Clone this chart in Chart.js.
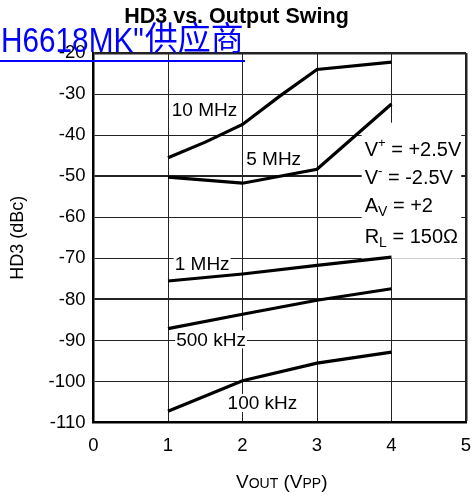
<!DOCTYPE html>
<html>
<head>
<meta charset="utf-8">
<script src="https://cdn.jsdelivr.net/npm/chart.js@4/dist/chart.umd.min.js"></script>
<style>
  html, body { margin: 0; padding: 0; background: #fff; }
  #hd3Chart { display: block; }
</style>
</head>
<body>
<canvas id="hd3Chart" width="472" height="499"></canvas>
<script>
// output swing (Vpp) where each curve was read
const swing = [1, 2, 3, 4];
// the 10 MHz curve bends, so it gets a few more readings
const swing10 = [1, 1.5, 2, 2.5, 3, 4];
const hd3_10MHz = [-45.5, -41.7, -37.4, -30.5, -24.0, -22.2];
const hd3_5MHz = [-50.2, -51.7, -48.3, -32.4];
const hd3_1MHz = [-75.5, -73.8, -71.7, -69.7];
const hd3_500kHz = [-87.1, -83.6, -80.2, -77.4];
const hd3_100kHz = [-107.2, -99.8, -95.5, -92.8];

const seriesNames = ["10 MHz", "5 MHz", "1 MHz", "500 kHz", "100 kHz"];
// curve names: left edge (Vpp) and middle (dBc)
const nameX = [1.05, 2.05, 1.09, 1.11, 1.8];
const nameY = [-33.7, -45.8, -71.3, -89.7, -105.2];

const xTicks = [0, 1, 2, 3, 4, 5];
const yTicks = [-110, -100, -90, -80, -70, -60, -50, -40, -30, -20];

// test conditions, drawn as text parts: [text, size, raise]
const conditions = [
  [["V", 20], ["+", 13, 9], [" = +2.5V", 20]],
  [["V", 20], ["-", 13, 9], [" = -2.5V", 20]],
  [["A", 20], ["V", 14, -4], [" = +2", 20]],
  [["R", 20], ["L", 14, -4], [" = 150\u03A9", 20]],
];
const conditionX = 3.64;
const conditionY = [-45.0, -52.0, -58.7, -66.2];

const FONT = '"Liberation Sans", Arial, Helvetica, sans-serif';

function drawParts(ctx, parts, x, y) {
  let cx = x;
  for (const p of parts) {
    ctx.font = `${p[1]}px ${FONT}`;
    ctx.fillText(p[0], cx, y - (p[2] || 0));
    cx += ctx.measureText(p[0]).width;
  }
  return cx - x;
}

function partsWidth(ctx, parts) {
  let w = 0;
  for (const p of parts) {
    ctx.font = `${p[1]}px ${FONT}`;
    w += ctx.measureText(p[0]).width;
  }
  return w;
}

const annotationsPlugin = {
  id: "annotations",
  beforeDatasetsDraw(chart) {
    const ctx = chart.ctx;
    const xs = chart.scales.x;
    const ys = chart.scales.y;
    ctx.save();
    ctx.textBaseline = "alphabetic";
    ctx.textAlign = "left";

    // white block behind the test conditions
    const cx = xs.getPixelForValue(conditionX);
    const widths = conditions.map((c) => partsWidth(ctx, c));
    const top = ys.getPixelForValue(conditionY[0]) - 33;
    const bottom = ys.getPixelForValue(conditionY[conditionY.length - 1]) + 16;
    ctx.fillStyle = "#fff";
    ctx.fillRect(cx - 3, top, Math.max(...widths) + 3, bottom - top);
    ctx.fillStyle = "#000";
    for (let i = 0; i < conditions.length; i++) {
      drawParts(ctx, conditions[i], cx, ys.getPixelForValue(conditionY[i]));
    }

    // curve names with a white background
    ctx.font = `19px ${FONT}`;
    ctx.textBaseline = "middle";
    for (let i = 0; i < seriesNames.length; i++) {
      const x = xs.getPixelForValue(nameX[i]);
      const y = ys.getPixelForValue(nameY[i]);
      const w = ctx.measureText(seriesNames[i]).width;
      ctx.fillStyle = "#fff";
      ctx.fillRect(x - 1, y - 9, w + 2, 18);
      ctx.fillStyle = "#000";
      ctx.fillText(seriesNames[i], x, y + 1);
    }
    ctx.restore();
  },
  afterDraw(chart) {
    const ctx = chart.ctx;
    const area = chart.chartArea;
    ctx.save();
    ctx.fillStyle = "#000";

    // title
    ctx.font = `bold 21.5px ${FONT}`;
    ctx.textAlign = "center";
    ctx.textBaseline = "alphabetic";
    ctx.fillText("HD3 vs. Output Swing", 236.5, 23);

    // y axis title
    ctx.save();
    ctx.translate(18, (area.top + area.bottom) / 2);
    ctx.rotate(-Math.PI / 2);
    ctx.font = `18px ${FONT}`;
    ctx.textBaseline = "middle";
    ctx.fillText("HD3 (dBc)", 0, 0);
    ctx.restore();

    // x axis title with small-caps subscripts
    ctx.textAlign = "left";
    const xTitle = [["V", 19], ["OUT", 14], [" (V", 19], ["PP", 14], [")", 19]];
    const w = partsWidth(ctx, xTitle);
    drawParts(ctx, xTitle, (area.left + area.right) / 2 + 2 - w / 2, 488);

    // blue link text over the top of the chart
    ctx.fillStyle = "#0000ff";
    ctx.save();
    ctx.translate(1, 52);
    ctx.scale(0.85, 1);
    ctx.font = `35px ${FONT}`;
    const latin = 'H6618MK"';
    ctx.fillText(latin, 0, 0);
    const lw = ctx.measureText(latin).width * 0.85;
    ctx.restore();
    ctx.font = '33px "Noto Sans CJK SC", sans-serif';
    ctx.fillText("供应商", 1 + lw + 1, 50);
    ctx.fillRect(0, 60, 245, 2);
    ctx.restore();
  },
};

window.addEventListener("load", () => {
  const series = [hd3_10MHz, hd3_5MHz, hd3_1MHz, hd3_500kHz, hd3_100kHz];
  const datasets = series.map((values, i) => {
    const xs = i == 0 ? swing10 : swing;
    return {
      label: seriesNames[i],
      data: xs.map((x, j) => ({ x: x, y: values[j] })),
      borderColor: "#000",
      borderWidth: 3.2,
      pointRadius: 0,
      fill: false,
      tension: 0,
    };
  });

  const ctx = document.getElementById("hd3Chart").getContext("2d");
  new Chart(ctx, {
    type: "line",
    data: { datasets: datasets },
    plugins: [annotationsPlugin],
    options: {
      responsive: false,
      animation: false,
      devicePixelRatio: 1,
      layout: { padding: { top: 53, right: 6, left: 0, bottom: 0 } },
      plugins: {
        legend: { display: false },
        tooltip: { enabled: false },
      },
      scales: {
        x: {
          type: "linear",
          min: xTicks[0],
          max: xTicks[xTicks.length - 1],
          afterBuildTicks: (scale) => {
            scale.ticks = xTicks.map((v) => ({ value: v }));
          },
          afterFit: (scale) => {
            scale.height = 76.3;
            // let the last label hang past the plot edge
            scale.paddingLeft = 0;
            scale.paddingRight = 0;
          },
          ticks: {
            color: "#000",
            padding: 12,
            font: { family: FONT, size: 18.5 },
          },
          grid: {
            color: "#222",
            drawTicks: false,
            lineWidth: (c) => (c.tick && c.tick.value == 5 ? 2.5 : 1),
          },
          border: { color: "#000", width: 2.5 },
        },
        y: {
          min: yTicks[0],
          max: yTicks[yTicks.length - 1],
          afterBuildTicks: (scale) => {
            scale.ticks = yTicks.map((v) => ({ value: v }));
          },
          afterFit: (scale) => {
            scale.width = 93.5;
          },
          ticks: {
            color: "#000",
            padding: 8,
            font: { family: FONT, size: 18.5 },
          },
          grid: {
            color: "#222",
            drawTicks: false,
            lineWidth: (c) => {
              if (!c.tick) return 1;
              if (c.tick.value == -20) return 2.5;
              if (c.tick.value == -50 || c.tick.value == -80) return 2;
              return 1;
            },
          },
          border: { color: "#000", width: 2.5 },
        },
      },
    },
  });
});
</script>
</body>
</html>
